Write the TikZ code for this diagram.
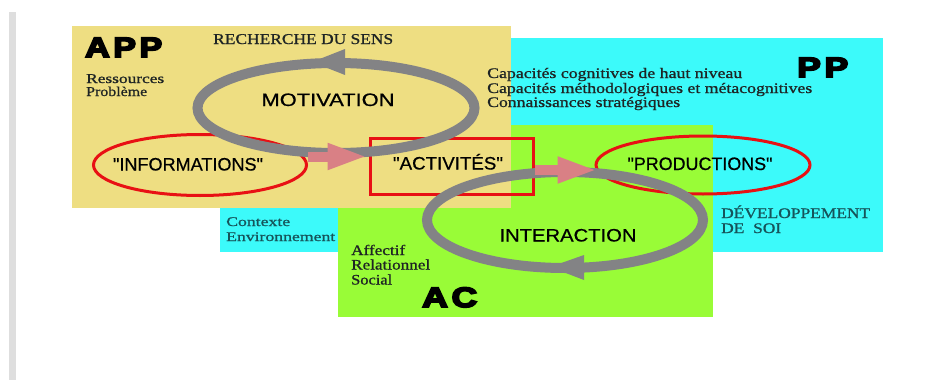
\documentclass[tikz,border=0pt]{standalone}
\usepackage{fontspec}
\setmainfont{Liberation Serif}[FakeBold=0.9]
\newfontfamily\lsans{Liberation Sans}[FakeBold=0.6]
\newfontfamily\heavy{Liberation Sans Bold}[FakeBold=6]
\usetikzlibrary{shapes.geometric,arrows.meta}

% set a text to a given width, keeping its natural height
\newcommand\fitw[2]{\resizebox{#1pt}{\height}{#2}}

\definecolor{appyellow}{RGB}{238,222,130}
\definecolor{ppcyan}{RGB}{60,250,250}
\definecolor{acgreen}{RGB}{153,252,55}
\definecolor{ringgray}{RGB}{131,131,133}
\definecolor{boxred}{RGB}{232,16,20}
\definecolor{flowpink}{RGB}{217,128,133}
\definecolor{txtdark}{RGB}{30,36,36}
\definecolor{txtteal}{RGB}{22,84,90}
\definecolor{barbg}{RGB}{222,222,222}

\tikzset{
  panel/.style={draw=none},
  ring/.style={draw=ringgray, line width=10pt, ellipse, inner sep=0pt},
  ringtip/.style={fill=ringgray},
  redshape/.style={draw=boxred, line width=3pt, inner sep=0pt},
  flow/.style={draw=flowpink, line width=10pt, -{Triangle[length=40pt,width=24pt]}},
  serif/.style={anchor=base west, inner sep=0pt, text=txtdark},
  label/.style={anchor=base, inner sep=0pt, text=black, font=\lsans\fontsize{18}{18}\selectfont},
  big/.style={anchor=base west, inner sep=0pt, text=black, font=\heavy\fontsize{28}{28}\selectfont},
}

\begin{document}
\begin{tikzpicture}[x=1pt, y=-1pt]
  \useasboundingbox (0,0) rectangle (927,380);
  \fill[white] (0,0) rectangle (927,380);
  \fill[barbg] (9,12) rectangle (16,380);

  % the three domains
  \fill[panel, ppcyan] (220,38) rectangle (883,252);
  \fill[panel, acgreen] (338,125) rectangle (713,317);
  \fill[panel, appyellow] (72,26) rectangle (511,208);

  % the three stages
  \node[redshape, ellipse, minimum width=213pt, minimum height=61pt] (info) at (200,165) {};
  \node[redshape, rectangle, minimum width=163pt, minimum height=56pt] (act) at (451.5,166) {};
  \node[redshape, ellipse, minimum width=214pt, minimum height=58pt] (prod) at (703,165) {};

  % the two loops
  \node[ring, minimum width=277pt, minimum height=90pt] (motring) at (336,108) {};
  \fill[ringtip] (312,62) -- (345,49) -- (345,75) -- cycle;
  \node[ring, minimum width=276pt, minimum height=96pt] (intring) at (565,220) {};
  \fill[ringtip] (550,267) -- (584,255) -- (584,280) -- cycle;

  % flow between the stages
  \draw[flow] ([yshift=8.5pt]info.east) -- ([yshift=9.5pt,xshift=-1pt]act.west);
  \draw[flow] ([yshift=-4pt]act.east) -- ([yshift=-5pt,xshift=3pt]prod.west);

  % stage and loop labels
  \node[label] (tinfo) at (188,170.5) {\fitw{150}{"INFORMATIONS"}};
  \node[label] (tact) at (448,169.5) {\fitw{110}{"ACTIVITÉS"}};
  \node[label] (tprod) at (700,170) {\fitw{145}{"PRODUCTIONS"}};
  \node[label] (tmot) at (328,106) {\fitw{133}{MOTIVATION}};
  \node[label] (tint) at (568,241.5) {\fitw{137}{INTERACTION}};

  % domain titles, letter-spaced
  \node[big] (app) at (85,57) {\fitw{77}{A\kern3pt P\kern3pt P}};
  \node[big] (pp) at (797,77) {\fitw{51}{P\kern3pt P}};
  \node[big] (ac) at (422,307) {\fitw{55}{A\kern3pt C}};

  % notes
  \node[serif, font=\fontsize{15}{15}\selectfont] (rech) at (213,44) {\fitw{180}{RECHERCHE DU SENS}};
  \node[serif, font=\fontsize{13.5}{13.5}\selectfont] (res1) at (86,83) {\fitw{78}{Ressources}};
  \node[serif, font=\fontsize{13.5}{13.5}\selectfont] (res2) at (86,96) {\fitw{61}{Problème}};

  \node[serif, font=\fontsize{14.6}{14.6}\selectfont] (cap1) at (487,78) {\fitw{255}{Capacités cognitives de haut niveau}};
  \node[serif, font=\fontsize{14.6}{14.6}\selectfont] (cap2) at (487,93) {\fitw{325}{Capacités méthodologiques et métacognitives}};
  \node[serif, font=\fontsize{14.6}{14.6}\selectfont] (cap3) at (487,107) {\fitw{193}{Connaissances stratégiques}};

  \node[serif, text=txtteal, font=\fontsize{13.2}{13.2}\selectfont] (ctx1) at (226,226) {\fitw{64}{Contexte}};
  \node[serif, text=txtteal, font=\fontsize{13.2}{13.2}\selectfont] (ctx2) at (226,241) {\fitw{109}{Environnement}};

  \node[serif, font=\fontsize{14.5}{14.5}\selectfont] (aff1) at (351,255) {\fitw{54}{Affectif}};
  \node[serif, font=\fontsize{14.5}{14.5}\selectfont] (aff2) at (351,269.5) {\fitw{79}{Relationnel}};
  \node[serif, font=\fontsize{14.5}{14.5}\selectfont] (aff3) at (351,284.5) {\fitw{41}{Social}};

  \node[serif, text=txtteal, font=\fontsize{14.6}{14.6}\selectfont] (dev1) at (721,218) {\fitw{149}{DÉVELOPPEMENT}};
  \node[serif, text=txtteal, font=\fontsize{14.6}{14.6}\selectfont] (dev2) at (721,233) {\fitw{60}{DE~~SOI}};
\end{tikzpicture}
\end{document}
